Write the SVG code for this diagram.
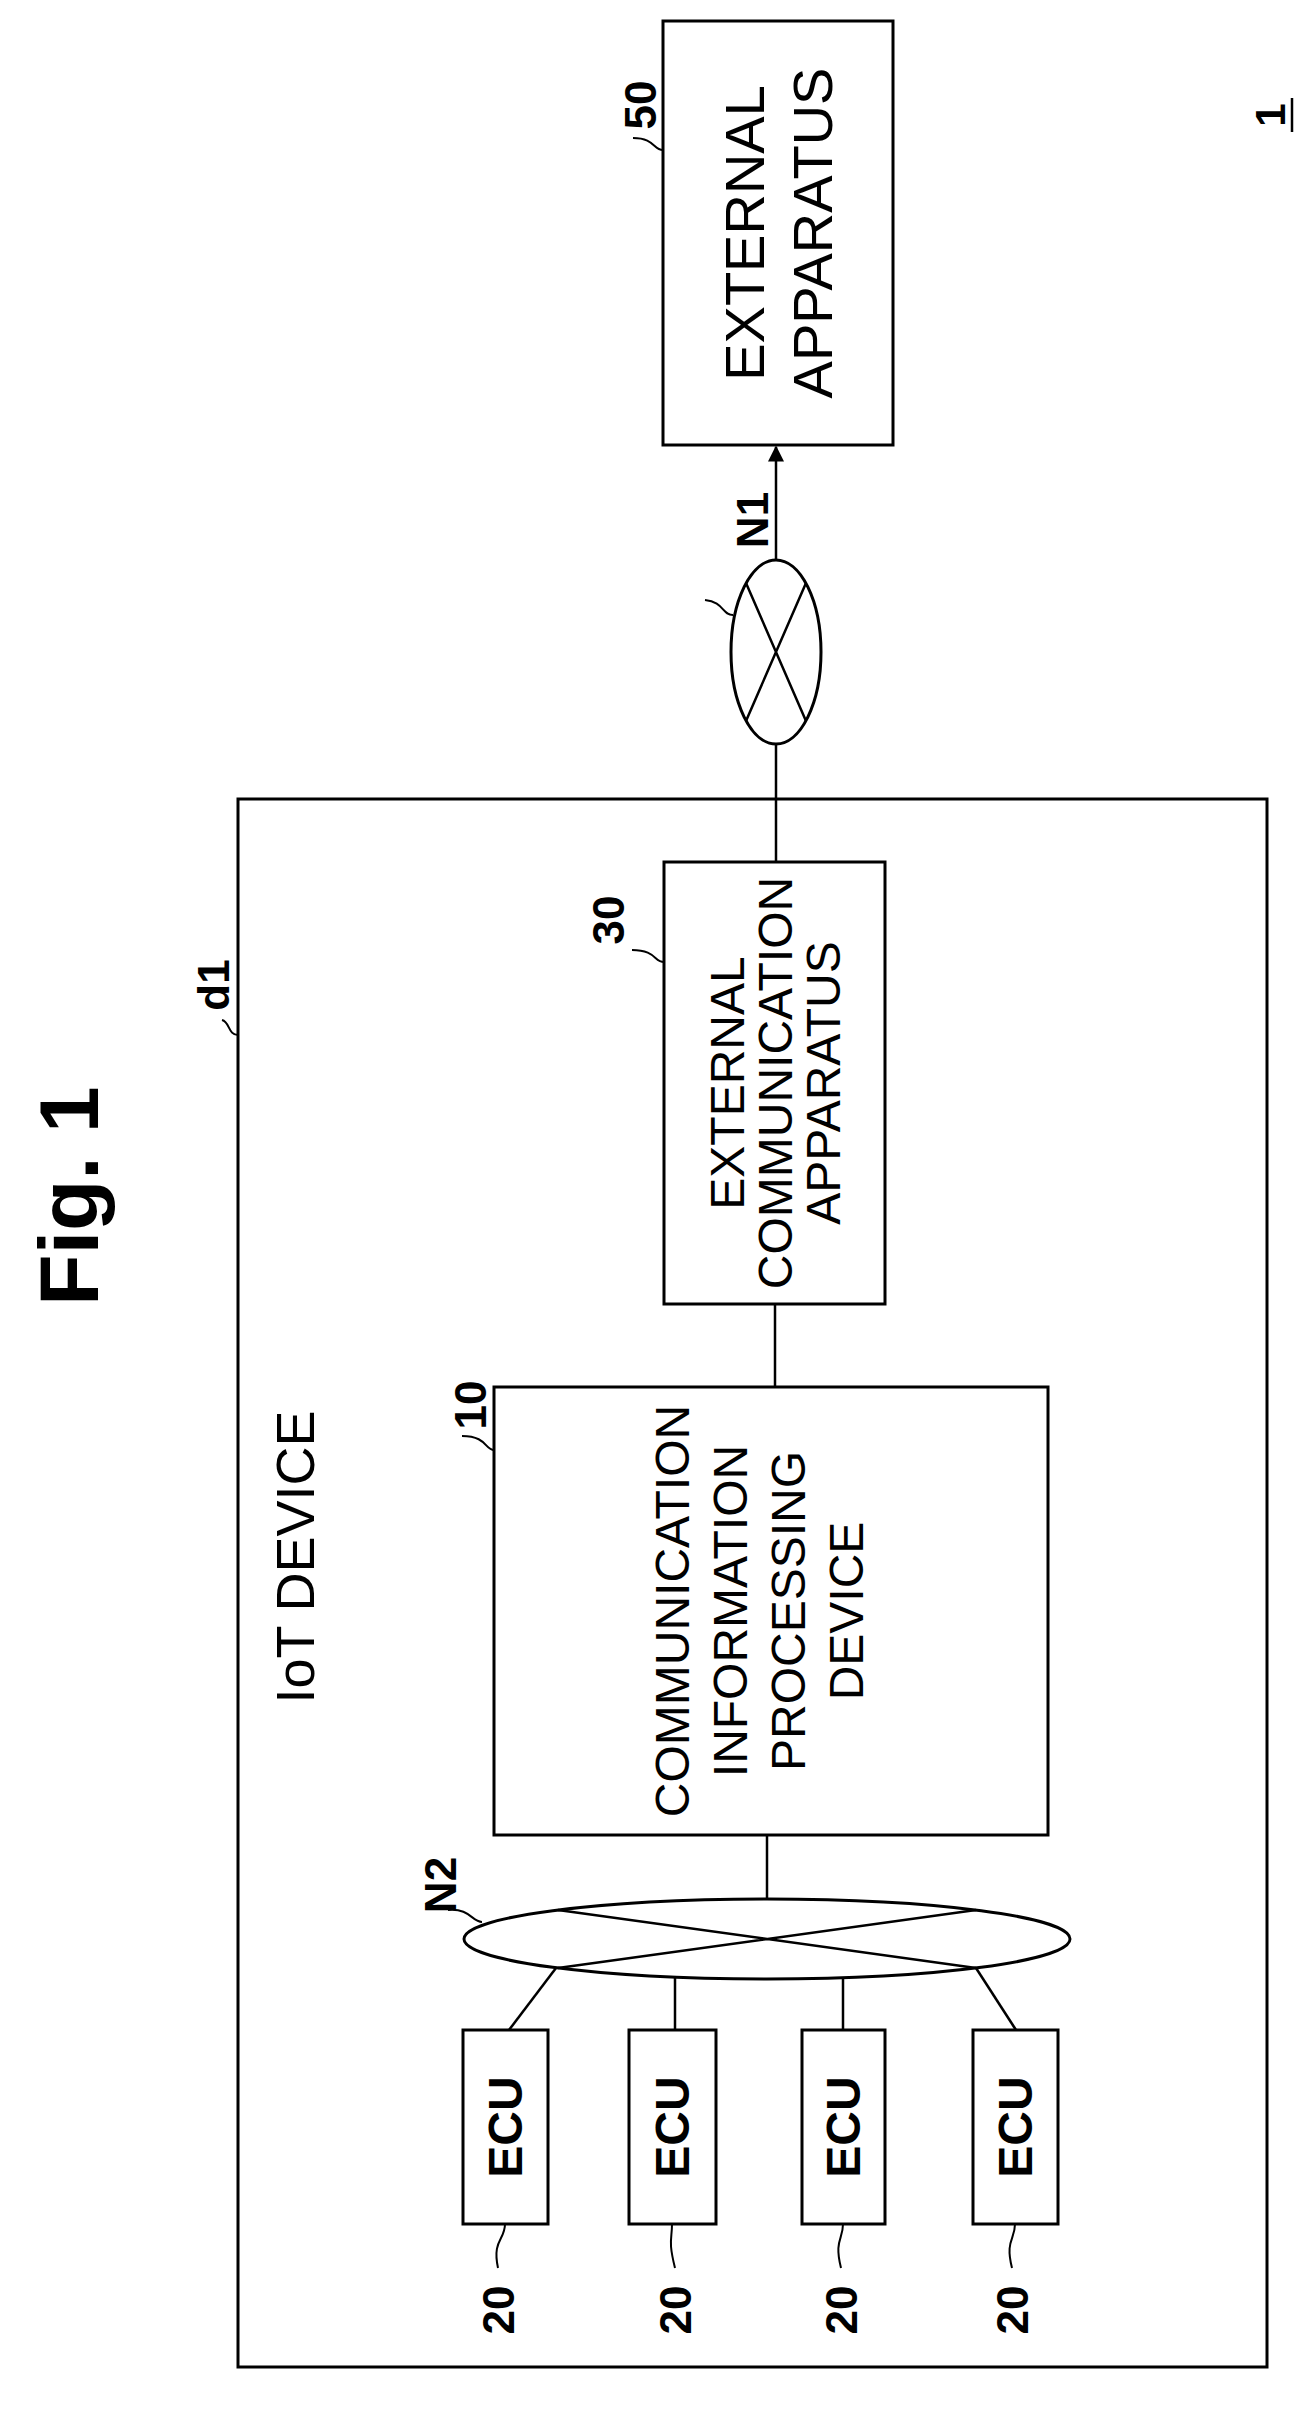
<svg xmlns="http://www.w3.org/2000/svg" width="1304" height="2431" viewBox="0 0 1304 2431">
<defs>
<style>
.b{fill:#fff;stroke:#000;stroke-width:3}
.l{fill:none;stroke:#000;stroke-width:2.5}
.ld{fill:none;stroke:#000;stroke-width:2}
.t{font-family:"Liberation Sans",Arial,sans-serif;font-size:48px;text-anchor:middle;dominant-baseline:central}
.r{font-family:"Liberation Sans",Arial,sans-serif;font-weight:bold;font-size:44px;text-anchor:middle;dominant-baseline:central}
</style>
<marker id="ar" viewBox="0 0 10 10" refX="9" refY="5" markerWidth="18" markerHeight="16" orient="auto" markerUnits="userSpaceOnUse"><path d="M0,0 L10,5 L0,10 z" fill="#000"/></marker>
</defs>
<rect width="1304" height="2431" fill="#fff"/>
<g id="title"><text class="r" style="font-size:84px" transform="translate(69,1196) rotate(-90)">Fig. 1</text></g>
<g id="ref1"><text class="r" style="font-size:42px" transform="translate(1270,115) rotate(-90)">1</text><line x1="1292" y1="98" x2="1292" y2="132" class="l"/></g>
<g id="d1"><rect class="b" x="238" y="799" width="1029" height="1568" fill="none"/>
<text class="t" style="font-size:54px" transform="translate(295,1557) rotate(-90)">IoT DEVICE</text>
<text class="r" transform="translate(213,985) rotate(-90)">d1</text><path class="ld" d="M238,1035 C228,1035 230,1022 222,1020"/></g>
<g id="n50"><rect class="b" x="663" y="21" width="230" height="424"/>
<text class="t" style="font-size:56px" transform="translate(778,233) rotate(-90)"><tspan x="0" dy="-34">EXTERNAL</tspan><tspan x="0" dy="68">APPARATUS</tspan></text>
<text class="r" transform="translate(640,105) rotate(-90)">50</text><path class="ld" d="M663,150 C653,150 655,138 633,138"/></g>
<g id="n30"><rect class="b" x="664" y="862" width="221" height="442"/>
<text class="t" transform="translate(775,1083) rotate(-90)"><tspan x="0" dy="-48">EXTERNAL</tspan><tspan x="0" dy="48">COMMUNICATION</tspan><tspan x="0" dy="48">APPARATUS</tspan></text>
<text class="r" transform="translate(608,920) rotate(-90)">30</text><path class="ld" d="M664,962 C654,962 656,950 632,950"/></g>
<g id="n10"><rect class="b" x="494" y="1387" width="554" height="448"/>
<text class="t" transform="translate(759,1611) rotate(-90)"><tspan x="0" dy="-87">COMMUNICATION</tspan><tspan x="0" dy="58">INFORMATION</tspan><tspan x="0" dy="58">PROCESSING</tspan><tspan x="0" dy="58">DEVICE</tspan></text>
<text class="r" transform="translate(470,1405) rotate(-90)">10</text><path class="ld" d="M494,1450 C485,1450 487,1436 462,1436"/></g>
<g id="N1"><ellipse class="b" cx="776" cy="652" rx="45" ry="92"/><path class="l" d="M746,583 L806,721 M806,583 L746,721"/>
<text class="r" transform="translate(752,520) rotate(-90)">N1</text><path class="ld" d="M733,615 C722,615 724,602 705,600"/></g>
<g id="N2"><ellipse class="b" cx="767" cy="1939" rx="303" ry="40"/><path class="l" d="M558,1910 L976,1968 M558,1968 L976,1910"/>
<text class="r" transform="translate(440,1885) rotate(-90)">N2</text><path class="ld" d="M482,1922 C472,1922 470,1908 448,1910"/></g>
<g id="ecus">
<g id="ecu1"><rect class="b" x="463" y="2030" width="85" height="194"/><text class="r" style="font-size:48px" transform="translate(505,2127) rotate(-90)">ECU</text><text class="r" transform="translate(498,2310) rotate(-90)">20</text><path class="ld" d="M505,2224 C505,2240 492,2240 498,2268"/></g>
<g id="ecu2"><rect class="b" x="629" y="2030" width="87" height="194"/><text class="r" style="font-size:48px" transform="translate(672,2127) rotate(-90)">ECU</text><text class="r" transform="translate(675,2310) rotate(-90)">20</text><path class="ld" d="M672,2224 C672,2240 668,2240 675,2268"/></g>
<g id="ecu3"><rect class="b" x="802" y="2030" width="83" height="194"/><text class="r" style="font-size:48px" transform="translate(843,2127) rotate(-90)">ECU</text><text class="r" transform="translate(841,2310) rotate(-90)">20</text><path class="ld" d="M843,2224 C843,2240 834,2240 841,2268"/></g>
<g id="ecu4"><rect class="b" x="973" y="2030" width="85" height="194"/><text class="r" style="font-size:48px" transform="translate(1015,2127) rotate(-90)">ECU</text><text class="r" transform="translate(1012,2310) rotate(-90)">20</text><path class="ld" d="M1015,2224 C1015,2240 1005,2240 1012,2268"/></g>
</g>
<g id="connectors">
<line class="l" x1="776" y1="560" x2="776" y2="447" marker-end="url(#ar)"/>
<line class="l" x1="776" y1="744" x2="776" y2="862"/>
<line class="l" x1="775" y1="1304" x2="775" y2="1387"/>
<line class="l" x1="767" y1="1835" x2="767" y2="1899"/>
<line class="l" x1="509" y1="2030" x2="556" y2="1968"/>
<line class="l" x1="675" y1="2030" x2="675" y2="1977"/>
<line class="l" x1="843" y1="2030" x2="843" y2="1978"/>
<line class="l" x1="1016" y1="2030" x2="976" y2="1968"/>
</g>
</svg>
